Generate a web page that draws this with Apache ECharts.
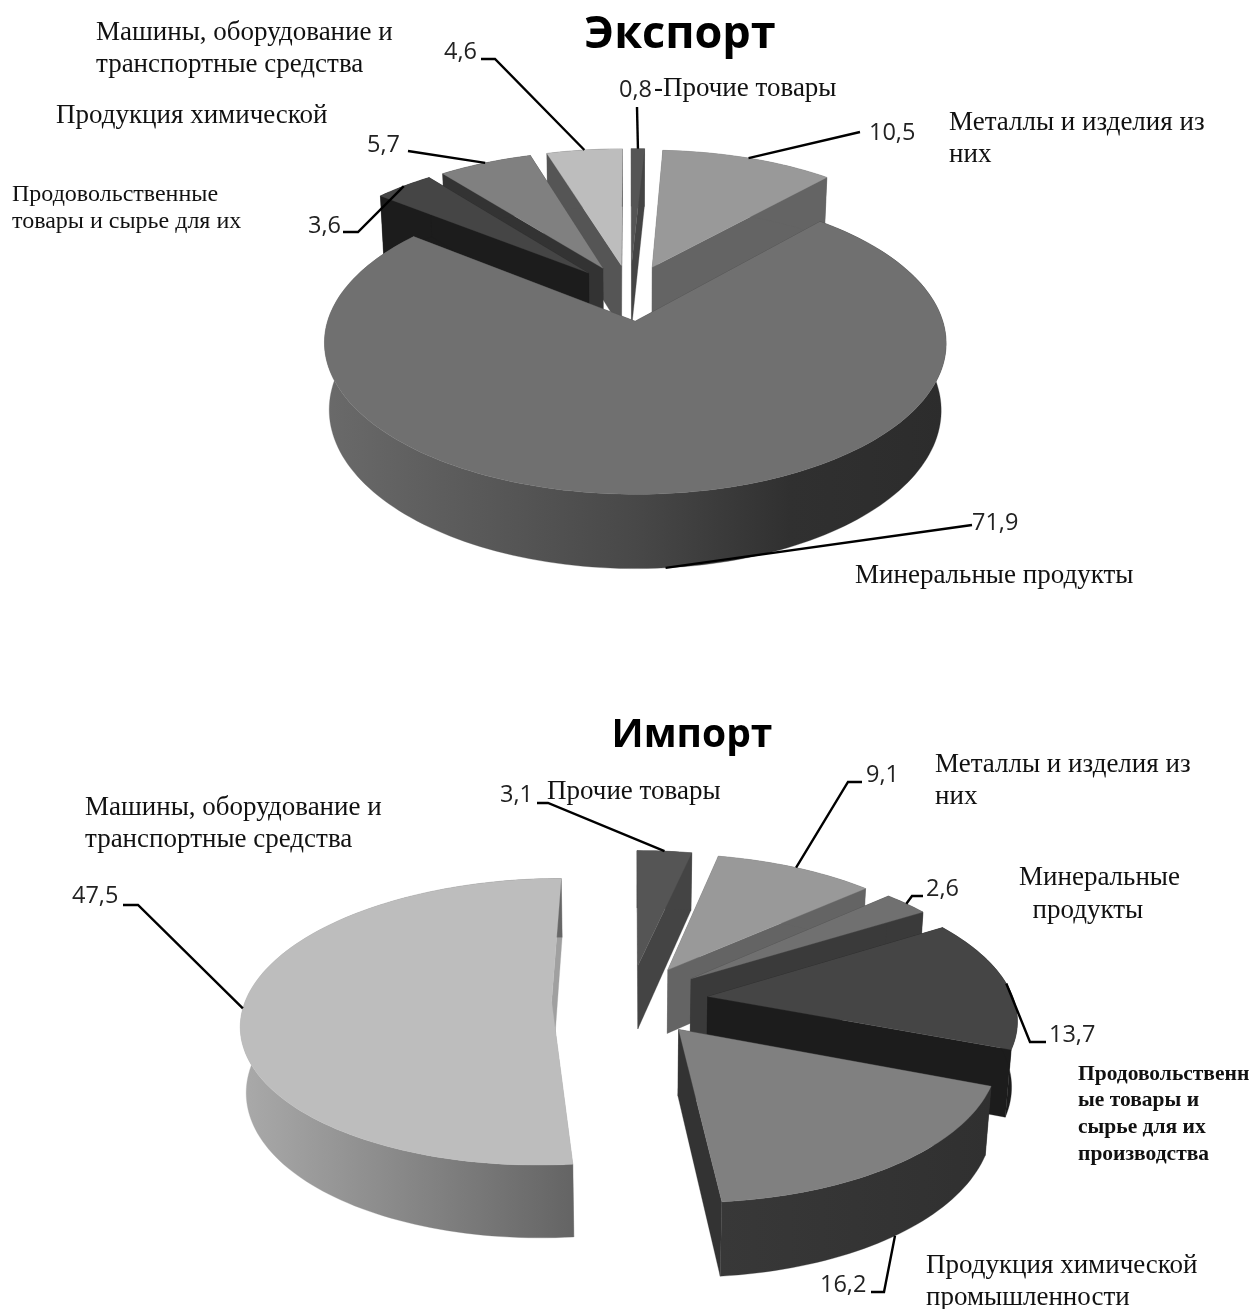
<!DOCTYPE html>
<html><head><meta charset="utf-8">
<style>html,body{margin:0;padding:0;background:#fff}#c{width:1257px;height:1309px}</style>
<script src="https://cdn.jsdelivr.net/npm/echarts@6/dist/echarts.min.js"></script>
</head><body><div id="c"></div>
<script>
// ---- data ----
const exportCategories = ['Прочие товары','Металлы и изделия из них','Минеральные продукты','Продовольственные товары и сырье для их производства','Продукция химической промышленности','Машины, оборудование и транспортные средства'];
const exportValues = [0.8,10.5,71.9,3.6,5.7,4.6];
const importCategories = exportCategories;
const importValues = [3.1,9.1,2.6,13.7,16.2,47.5];
const exportLabels = ['0,8','10,5','71,9','3,6','5,7','4,6'];
const importLabels = ['3,1','9,1','2,6','13,7','16,2','47,5'];

// ---- style ----
const topColors = ['#555555','#999999','#707070','#454545','#808080','#bdbdbd'];
const exportCut = ['#444444','#646464','#3a3a3a','#1c1c1c','#333333','#555555'];
const importCut = ['#444444','#646464','#3a3a3a','#1c1c1c','#333333','#a0a0a0'];
const exportWall = {2:[[0,'#6a6a6a'],[0.5,'#484848'],[0.75,'#303030'],[1,'#2c2c2c']]};
const importWall = {4:[[0,'#383838'],[1,'#303030']],5:[[0,'#aaaaaa'],[1,'#646464']]};

// ---- layout ----
const exportView = {cx:630,cy:292.5,R:299,A:140,H:66,k:0.14,m:0.015,start:0,explode:.2};
const importView = {cx:630,cy:1000,R:306,A:140,H:66,k:0.14,m:0.015,start:0,explode:.256};
// leader attachment [angle offset, height], elbow points and label anchor, in slice order
const exportAttach = [[0,0],[0,0],[0,1],[0,0],[0,0],[0,0]];
const exportLeaders = [[[637,107]],[[860,132]],[[972,525]],[[358,232],[343,232]],[[408,151]],[[495,59],[481,59]]];
const exportLabelPos = [[619,90],[869,133],[972,523],[308,226],[367,145],[444,52]];
const importAttach = [[0,0],[0,0],[0,0],[0,0],[0,1],[0,0]];
const importLeaders = [[[548,803],[537,803]],[[848,782],[862,782]],[[912,896],[923,896]],[[1030,1042],[1046,1042]],[[884,1292],[871,1292]],[[138,905],[123,905]]];
const importLabelPos = [[500,795],[866,775],[926,889],[1049,1035],[820,1285],[72,896]];
const captionsSerif = [
 ['Машины, оборудование и\nтранспортные средства',96,33,27,32],
 ['Продукция химической',56,116,27,32],
 ['Металлы и изделия из\nних',949,123,27,32],
 ['Минеральные продукты',855,576,27,32],
 ['-Прочие товары',654,89,27,32],
 ['Продовольственные\nтовары и сырье для их',12,195,24,27],
 ['Машины, оборудование и\nтранспортные средства',85,808,27,32],
 ['Прочие товары',547,792,27,32],
 ['Металлы и изделия из\nних',935,765,27,32],
 ['Минеральные\n  продукты',1019,878,27,33],
 ['Продукция химической\nпромышленности',926,1266,27,32]
];
const captionsBold = ['Продовольственн\nые товары и\nсырье для их\nпроизводства',1078,1074,21.5,26.7];

function projectUV(v,U,V,w){
  const d=1+v.k*V+v.m*w;
  return [v.cx+v.R*U/d, v.cy-v.A*V/d+v.H*w/d];
}
function project(v,a,e,w,mid){
  const rad=a*Math.PI/180, mr=mid*Math.PI/180;
  return projectUV(v,Math.sin(rad)+e*Math.sin(mr),Math.cos(rad)+e*Math.cos(mr),w);
}
function angles(values,v){
  const sum=values.reduce((s,x)=>s+x,0);let c=v.start;
  return values.map(x=>{const s=c;c+=x/sum*360;return [s,c,(s+c)/2];});
}
function makeSeries(values,labels,v,wall,cut,attach,leaders,labelPos){
  const ang=angles(values,v);
  const order=values.map((_,i)=>i).sort((a,b)=>Math.cos(ang[b][2]*Math.PI/180)-Math.cos(ang[a][2]*Math.PI/180));
  return {
    type:'custom',coordinateSystem:'none',silent:true,animation:false,
    data:order.map(i=>[i,values[i]]),
    renderItem(params,api){
      const i=api.value(0),[s,t,mid]=ang[i],e=v.explode,mr=mid*Math.PI/180;
      const arc=w=>{const p=[];const n=Math.max(2,Math.ceil((t-s)/1.5));for(let j=0;j<=n;j++)p.push(project(v,s+(t-s)*j/n,e,w,mid));return p;};
      const apex=w=>projectUV(v,e*Math.sin(mr),e*Math.cos(mr),w);
      const top=arc(0),bot=arc(1),a0=apex(0),a1=apex(1);
      const poly=(pts,fill)=>({type:'polygon',shape:{points:pts},style:{fill,stroke:fill,lineWidth:.3}});
      const xs=top.concat(bot).map(p=>p[0]);
      const grad=wall[i]?{type:'linear',global:true,x:Math.min(...xs),y:0,x2:Math.max(...xs),y2:0,colorStops:wall[i].map(c=>({offset:c[0],color:c[1]}))}:cut[i];
      const ch=[
        poly([a0,top[0],bot[0],a1],cut[i]),
        poly([a0,top[top.length-1],bot[bot.length-1],a1],cut[i]),
        poly(top.concat(bot.slice().reverse()),grad),
        poly([a0].concat(top),topColors[i])
      ];
      const from=project(v,mid+attach[i][0],e,attach[i][1],mid);
      ch.push({type:'polyline',shape:{points:[from].concat(leaders[i])},style:{stroke:'#000',lineWidth:2.4,fill:null},z2:50});
      ch.push({type:'text',x:labelPos[i][0],y:labelPos[i][1],z2:51,style:{text:labels[i],font:'23.5px "Open Sans"',fill:'#222',textVerticalAlign:'middle'}});
      return {type:'group',children:ch};
    }
  };
}
const chart=echarts.init(document.getElementById('c'),null,{renderer:'canvas'});
const graphicEls=captionsSerif.map(c=>({type:'text',x:c[1],y:c[2]-c[4]/2,z:60,style:{text:c[0],font:c[3]+'px "Liberation Serif"',fill:'#111',lineHeight:c[4],textVerticalAlign:'top'}}));
graphicEls.push({type:'text',x:captionsBold[1],y:captionsBold[2]-captionsBold[4]/2,z:60,style:{text:captionsBold[0],font:'bold '+captionsBold[3]+'px "Liberation Serif"',fill:'#111',lineHeight:captionsBold[4],textVerticalAlign:'top'}});
chart.setOption({
  animation:false,
  backgroundColor:'#fff',
  title:[
    {text:'Экспорт',left:675,top:8,textAlign:'center',textStyle:{fontFamily:'Open Sans',fontWeight:'bold',fontSize:45,color:'#000'}},
    {text:'Импорт',left:687,top:711,textAlign:'center',textStyle:{fontFamily:'Open Sans',fontWeight:'bold',fontSize:39,color:'#000'}}
  ],
  graphic:graphicEls,
  series:[
    makeSeries(exportValues,exportLabels,exportView,exportWall,exportCut,exportAttach,exportLeaders,exportLabelPos),
    makeSeries(importValues,importLabels,importView,importWall,importCut,importAttach,importLeaders,importLabelPos)
  ]
});
</script></body></html>
